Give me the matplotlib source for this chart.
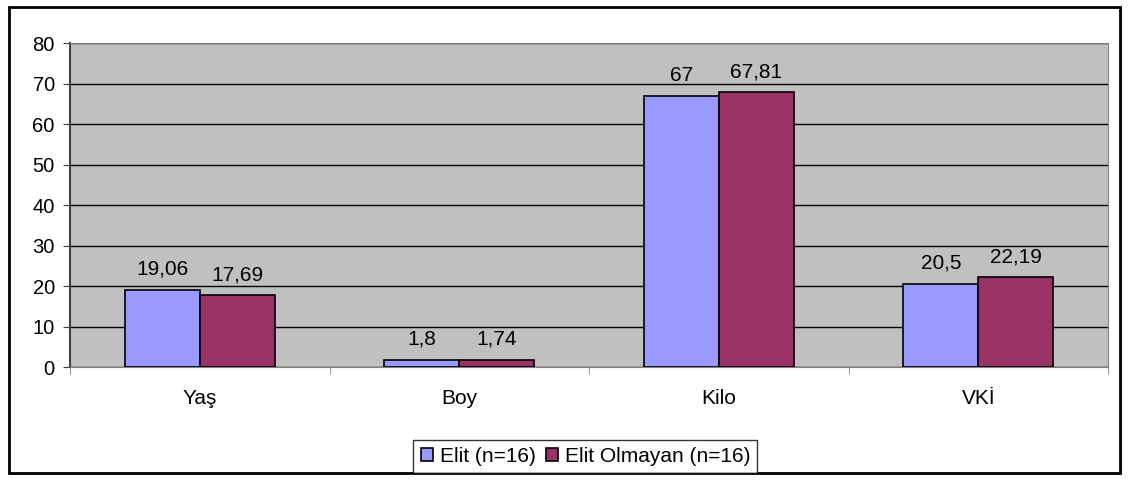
import matplotlib.pyplot as plt
import numpy as np
from matplotlib.patches import Rectangle

plt.rcParams['font.family'] = ['Liberation Sans', 'DejaVu Sans']

categories = ['Yaş', 'Boy', 'Kilo', 'VKİ']
elit = [19.06, 1.8, 67, 20.5]
elit_olmayan = [17.69, 1.74, 67.81, 22.19]
elit_labels = ['19,06', '1,8', '67', '20,5']
olmayan_labels = ['17,69', '1,74', '67,81', '22,19']
series_names = ['Elit (n=16)', 'Elit Olmayan (n=16)']

fig = plt.figure(figsize=(11.28, 4.8), dpi=100)
ax = fig.add_axes([0.0621, 0.2354, 0.9202, 0.675])
fig.patches.append(Rectangle((0.008, 0.014), 0.985, 0.972, transform=fig.transFigure,
                             fill=False, edgecolor='black', linewidth=2))

x = np.arange(len(categories))
w = 0.289
b1 = ax.bar(x - w/2, elit, w, color='#9999FF', edgecolor='black', linewidth=1.2,
            label=series_names[0], zorder=3)
b2 = ax.bar(x + w/2, elit_olmayan, w, color='#993366', edgecolor='black', linewidth=1.2,
            label=series_names[1], zorder=3)
ax.bar_label(b1, labels=elit_labels, padding=8, fontsize=15)
ax.bar_label(b2, labels=olmayan_labels, padding=8, fontsize=15)

ax.set_facecolor('#C0C0C0')
ax.set_xlim(-0.5, 3.5)
ax.set_ylim(0, 80)
ax.set_yticks(range(0, 81, 10))
ax.yaxis.grid(True, color='black', linewidth=1, zorder=0)
ax.set_axisbelow(True)
ax.set_xticks(x)
ax.set_xticklabels(categories)
ax.set_xticks(np.arange(-0.5, 4, 1), minor=True)
ax.tick_params(axis='x', which='major', length=0, pad=16, labelsize=15)
ax.tick_params(axis='x', which='minor', length=5, color='#808080')
ax.tick_params(axis='y', length=5, labelsize=14.5, color='#404040', pad=6)
for s in ['top', 'right']:
    ax.spines[s].set_color('#808080')
ax.spines['left'].set_color('#404040')
ax.spines['bottom'].set_color('#808080')
ax.spines['left'].set_linewidth(1.5)

leg = fig.legend(loc='center', bbox_to_anchor=(0.519, 0.049), ncol=2, fontsize=15,
                 frameon=True, fancybox=False, edgecolor='black', handlelength=0.6,
                 handleheight=0.6, handletextpad=0.3, columnspacing=0.5, borderpad=0.35)
leg.get_frame().set_linewidth(1)

fig.savefig('out.png', dpi=100)
